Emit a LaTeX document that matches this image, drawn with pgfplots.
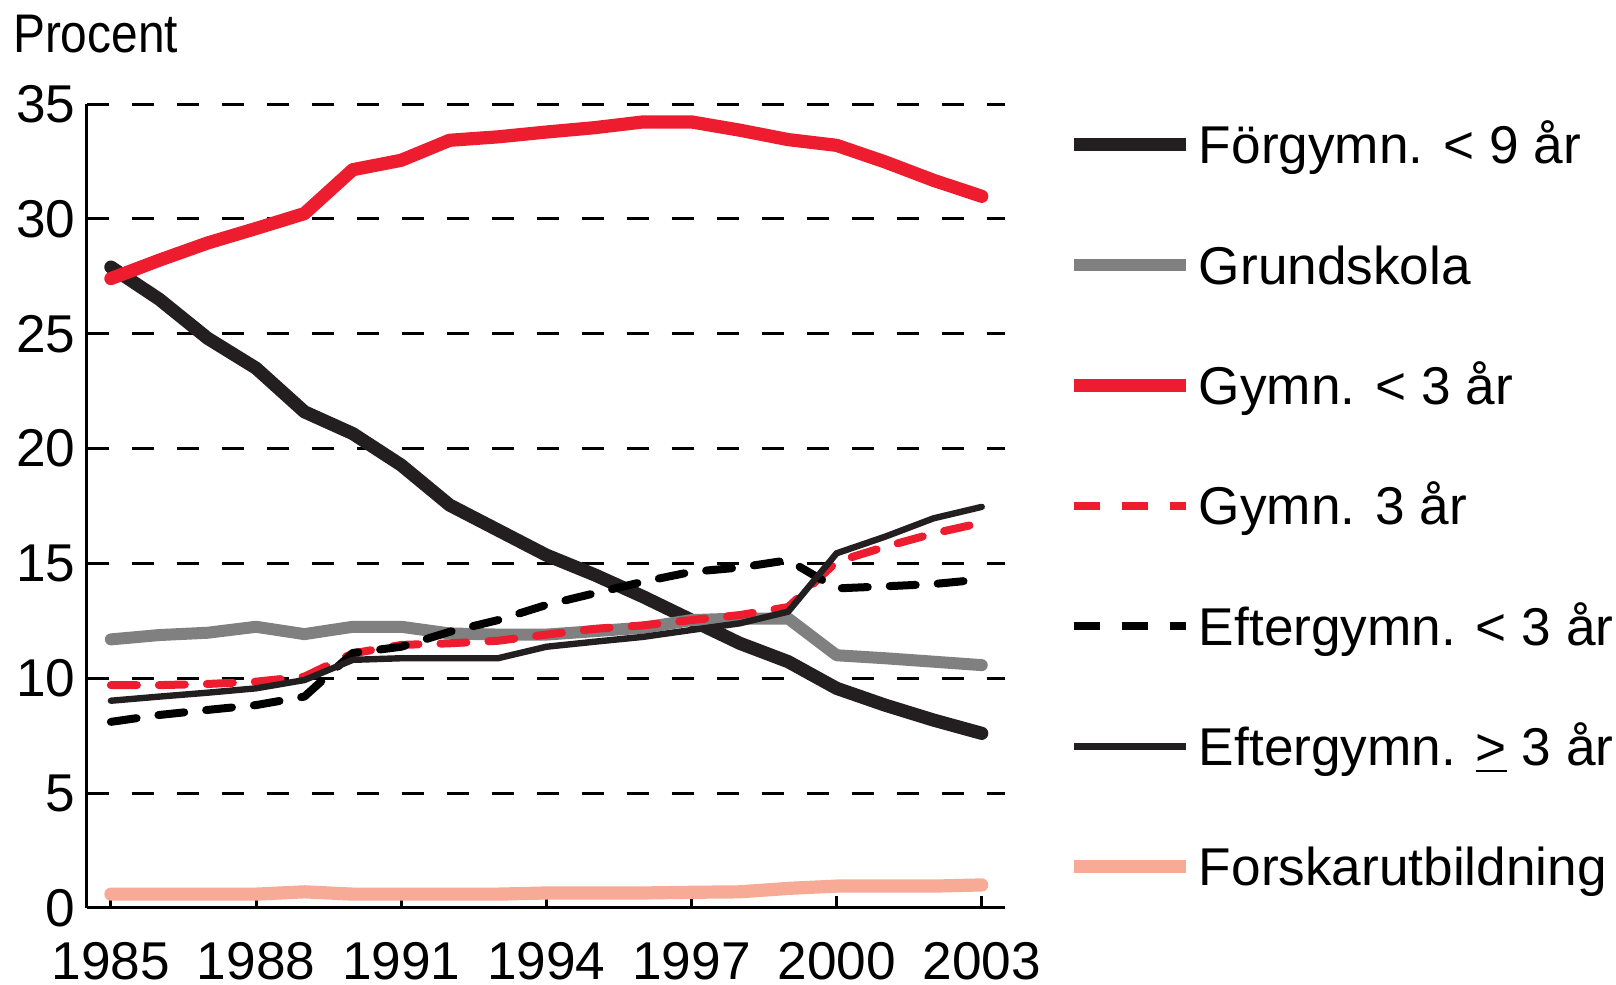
\documentclass[border=0pt]{standalone}
\usepackage{fontspec}
\setmainfont{Liberation Sans}
\usepackage{pgfplots}
\pgfplotsset{compat=1.18}
\definecolor{scbred}{HTML}{ED1C2E}
\definecolor{scbblack}{HTML}{231F20}
\definecolor{scbgrey}{HTML}{808080}
\definecolor{scbsalmon}{HTML}{F7AA95}
\newcommand{\chartfont}{\fontsize{13.3}{16}\selectfont}

\begin{document}
\begin{tikzpicture}
\begin{axis}[
    scale only axis, width=229.6pt, height=201pt,
    xmin=1984.5, xmax=2003.48, ymin=0, ymax=35,
    axis lines*=left,
    axis line style={-, line width=0.75pt, black},
    xtick={1985,1988,...,2003}, ytick={0,5,...,35},
    tick align=inside, major tick length=3pt,
    xtick style={line width=0.75pt, black},
    ytick style={draw=none},
    ymajorgrids,
    major grid style={black, line width=0.75pt, dash pattern=on 5.5pt off 5.75pt},
    tick label style={font=\chartfont},
    /pgf/number format/assume math mode=true,
    /pgf/number format/1000 sep={},
    xticklabel style={yshift=-5pt},
    yticklabel style={xshift=0.7pt},
    clip=false, no markers,
    legend cell align=left,
    legend style={at={(1.0675,0.9863)}, anchor=north west, draw=none, fill=none,
        inner sep=0pt, row sep=14.58pt, column sep=1.5pt, font=\chartfont,
        nodes={inner sep=0pt, text height=12pt, text depth=3.5pt, anchor=base west}},
    legend image code/.code={\draw[#1, line cap=butt] (0pt,4.75pt) -- (28pt,4.75pt);},
    every axis plot/.append style={line cap=round, line join=round},
]
% Förgymn. < 9 år
\addplot[scbblack, line width=3.3pt] coordinates {
(1985,27.9) (1986,26.5) (1987,24.8) (1988,23.5) (1989,21.6) (1990,20.65)
(1991,19.28) (1992,17.54) (1993,16.45) (1994,15.36) (1995,14.5) (1996,13.55)
(1997,12.53) (1998,11.52) (1999,10.72) (2000,9.56) (2001,8.83) (2002,8.18) (2003,7.6)};
% Grundskola
\addplot[scbgrey, line width=3pt] coordinates {
(1985,11.69) (1986,11.88) (1987,11.98) (1988,12.24) (1989,11.92) (1990,12.24)
(1991,12.24) (1992,11.95) (1993,11.9) (1994,11.9) (1995,12.05) (1996,12.2)
(1997,12.53) (1998,12.6) (1999,12.6) (2000,11.0) (2001,10.87) (2002,10.72) (2003,10.57)};
% Gymn. < 3 år
\addplot[scbred, line width=3.3pt] coordinates {
(1985,27.4) (1986,28.2) (1987,28.95) (1988,29.58) (1989,30.23) (1990,32.14)
(1991,32.55) (1992,33.42) (1993,33.57) (1994,33.78) (1995,33.97) (1996,34.22)
(1997,34.22) (1998,33.86) (1999,33.45) (2000,33.2) (2001,32.48) (2002,31.68) (2003,30.98)};
% Gymn. 3 år
\addplot[scbred, line width=2pt, dash pattern=on 6.5pt off 5.5pt] coordinates {
(1985,9.7) (1986,9.7) (1987,9.75) (1988,9.85) (1989,10.07) (1990,11.08)
(1991,11.45) (1992,11.52) (1993,11.63) (1994,11.9) (1995,12.15) (1996,12.3)
(1997,12.53) (1998,12.75) (1999,13.1) (2000,15.07) (2001,15.72) (2002,16.3) (2003,16.77)};
% Eftergymn. < 3 år
\addplot[black, line width=2pt, dash pattern=on 6.5pt off 5.5pt] coordinates {
(1985,8.1) (1986,8.4) (1987,8.62) (1988,8.83) (1989,9.2) (1990,11.1)
(1991,11.37) (1992,12.02) (1993,12.53) (1994,13.19) (1995,13.7) (1996,14.2)
(1997,14.63) (1998,14.82) (1999,15.14) (2000,13.91) (2001,14.0) (2002,14.1) (2003,14.3)};
% Eftergymn. >= 3 år
\addplot[scbblack, line width=1.6pt] coordinates {
(1985,9.02) (1986,9.2) (1987,9.37) (1988,9.56) (1989,9.92) (1990,10.8)
(1991,10.87) (1992,10.87) (1993,10.87) (1994,11.37) (1995,11.59) (1996,11.8)
(1997,12.1) (1998,12.39) (1999,12.9) (2000,15.44) (2001,16.16) (2002,16.96) (2003,17.46)};
% Forskarutbildning
\addplot[scbsalmon, line width=3.3pt] coordinates {
(1985,0.6) (1986,0.6) (1987,0.6) (1988,0.6) (1989,0.7) (1990,0.6)
(1991,0.6) (1992,0.6) (1993,0.6) (1994,0.65) (1995,0.65) (1996,0.65)
(1997,0.68) (1998,0.7) (1999,0.85) (2000,0.95) (2001,0.95) (2002,0.95) (2003,1.0)};
\legend{Förgymn. < 9 år, Grundskola, Gymn. < 3 år, Gymn. 3 år,
    Eftergymn. < 3 år, Eftergymn. \underline{>} 3 år, Forskarutbildning}
\node[anchor=base west, inner sep=0pt, font=\fontsize{13.6}{16}\selectfont, yshift=12.9pt]
    at (rel axis cs:-0.081,1) {\scalebox{0.88}[1]{Procent}};
\coordinate (bbll) at (rel axis cs:-0.0944,-0.0958);
\coordinate (bbur) at (rel axis cs:1.6654,1.1294);
\end{axis}
\pgfresetboundingbox
\path[use as bounding box] (bbll) rectangle (bbur);
\end{tikzpicture}
\end{document}
